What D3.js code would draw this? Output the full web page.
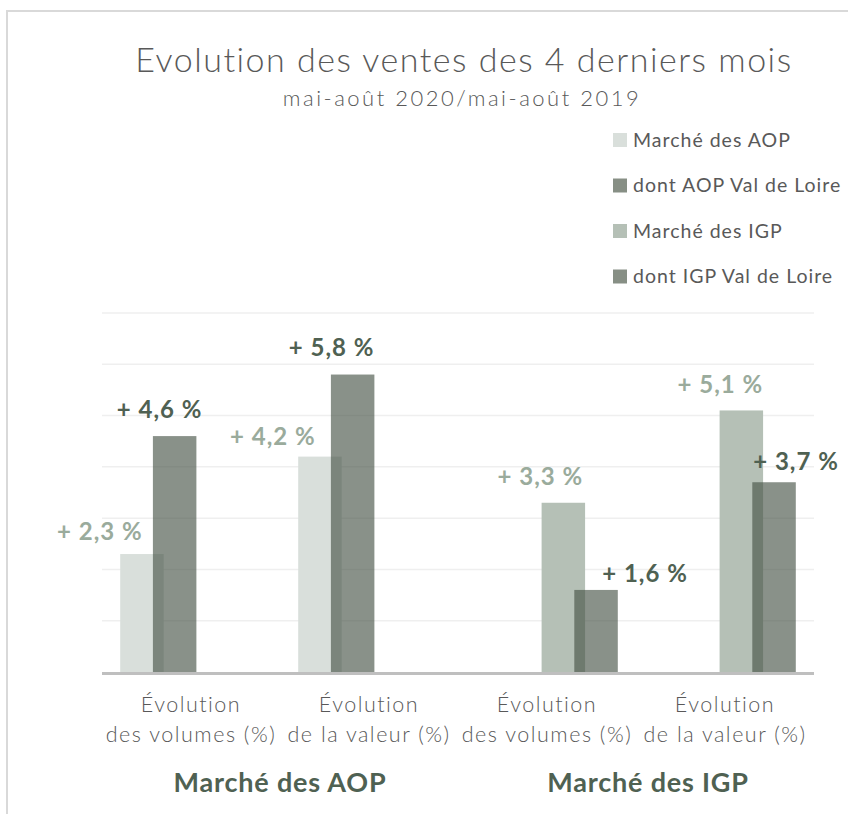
<!DOCTYPE html>
<html>
<head>
<meta charset="utf-8">
<script src="https://cdn.jsdelivr.net/npm/d3@7"></script>
<style>
  body { margin: 0; background: #fff; }
  svg { display: block; font-family: Lato, 'Open Sans', sans-serif; }
</style>
</head>
<body>
<div id="chart"></div>
<script>
const WIDTH = 848
const HEIGHT = 814

// data
const categories = ['aopVol', 'aopVal', 'igpVol', 'igpVal']
const categoryLines = [
  ['Évolution', 'des volumes (%)'],
  ['Évolution', 'de la valeur (%)'],
  ['Évolution', 'des volumes (%)'],
  ['Évolution', 'de la valeur (%)'],
]
const groups = ['Marché des AOP', 'Marché des IGP']
const seriesNames = ['Marché des AOP', 'dont AOP Val de Loire', 'Marché des IGP', 'dont IGP Val de Loire']
const aopMarket = [2.3, 4.2, null, null]
const aopLoire = [4.6, 5.8, null, null]
const igpMarket = [null, null, 3.3, 5.1]
const igpLoire = [null, null, 1.6, 3.7]
const yTicks = [0, 1, 2, 3, 4, 5, 6, 7]

// styles
const barFill = ['#d9dfdb', 'rgb(68,80,68)', '#b5c0b6', 'rgb(68,80,68)']
const barOpacity = [1, 0.63, 1, 0.63]
const legendFill = ['#d9dfdb', '#878f85', '#b5c0b6', '#878f85']
const labelColor = ['#9aab9c', '#4f6152', '#9aab9c', '#4f6152']
// hand placed label offsets (dx from bar centre, dy from bar top), as in the original
const labelNudge = [
  [[-42, -22], [-47, -20]],
  [[-15, -26], [-21, -27]],
  [[-23, -26], [-21, -26]],
  [[49, -16], [22, -21]],
]
const groupNudge = [0, 12]

const allSeries = [aopMarket, aopLoire, igpMarket, igpLoire]

const svg = d3.select('#chart')
  .append('svg')
  .attr('width', WIDTH)
  .attr('height', HEIGHT)

// frame
svg.append('path')
  .attr('d', `M7,${HEIGHT} V11 H${WIDTH}`)
  .attr('fill', 'none')
  .attr('stroke', '#d9d9d9')
  .attr('stroke-width', 2)

// title
svg.append('text')
  .attr('x', 464).attr('y', 72)
  .attr('text-anchor', 'middle')
  .attr('font-size', 34)
  .attr('font-weight', 300)
  .attr('letter-spacing', 1.5)
  .attr('fill', '#595959')
  .text('Evolution des ventes des 4 derniers mois')

svg.append('text')
  .attr('x', 462).attr('y', 106)
  .attr('text-anchor', 'middle')
  .attr('font-size', 22)
  .attr('font-weight', 300)
  .attr('fill', '#595959')
  .attr('letter-spacing', 2.5)
  .text('mai-août 2020/mai-août 2019')

// scales
const x0 = d3.scaleBand().domain(categories).range([102, 814])
const x1 = d3.scaleBand().domain(seriesNames).range([18.2, 18.2 + 4 * 32.7])
const barWidth = x1.bandwidth() * 1.33
const y = d3.scaleLinear().domain([0, 7]).range([672, 313])

// gridlines
svg.append('g')
  .selectAll('line')
  .data(yTicks.slice(1))
  .enter()
  .append('line')
  .attr('x1', x0.range()[0])
  .attr('x2', x0.range()[1])
  .attr('y1', (d) => y(d))
  .attr('y2', (d) => y(d))
  .attr('stroke', '#efefef')
  .attr('stroke-width', 1.5)

// bars
allSeries.forEach((values, s) => {
  const bars = values
    .map((v, i) => ({ v, i }))
    .filter((d) => d.v !== null)

  svg.append('g')
    .selectAll('rect')
    .data(bars)
    .enter()
    .append('rect')
    .attr('x', (d) => x0(categories[d.i]) + x1(seriesNames[s]))
    .attr('y', (d) => y(d.v))
    .attr('width', barWidth)
    .attr('height', (d) => y(0) - y(d.v))
    .attr('fill', barFill[s])
    .attr('fill-opacity', barOpacity[s])
})

// labels on top so the bars never cover them
allSeries.forEach((values, s) => {
  const bars = values
    .map((v, i) => ({ v, i }))
    .filter((d) => d.v !== null)

  svg.append('g')
    .selectAll('text')
    .data(bars)
    .enter()
    .append('text')
    .attr('x', (d, k) => x0(categories[d.i]) + x1(seriesNames[s]) + barWidth / 2 + labelNudge[s][k][0])
    .attr('y', (d, k) => y(d.v) + labelNudge[s][k][1])
    .attr('dy', '.35em')
    .attr('text-anchor', 'middle')
    .attr('font-size', 24)
    .attr('font-weight', 700)
    .attr('letter-spacing', 1)
    .attr('fill', labelColor[s])
    .text((d) => '+ ' + d3.format('.1f')(d.v).replace('.', ',') + ' %')
})

// baseline
svg.append('line')
  .attr('x1', x0.range()[0])
  .attr('x2', x0.range()[1])
  .attr('y1', y(0) + 1.5)
  .attr('y2', y(0) + 1.5)
  .attr('stroke', '#bfbfbf')
  .attr('stroke-width', 3)

// category labels
const catText = svg.append('g')
  .selectAll('text')
  .data(categories)
  .enter()
  .append('text')
  .attr('text-anchor', 'middle')
  .attr('font-size', 21.5)
  .attr('font-weight', 300)
  .attr('letter-spacing', 1.5)
  .attr('fill', '#595959')

catText.selectAll('tspan')
  .data((d, i) => categoryLines[i])
  .enter()
  .append('tspan')
  .attr('x', function () { return x0(this.parentNode.__data__) + x0.bandwidth() / 2 })
  .attr('y', (d, j) => 712 + j * 30)
  .text((d) => d)

// group labels
svg.append('g')
  .selectAll('text')
  .data(groups)
  .enter()
  .append('text')
  .attr('x', (d, i) => (x0(categories[i * 2]) + x0(categories[i * 2 + 1]) + x0.bandwidth()) / 2 + groupNudge[i])
  .attr('y', 792)
  .attr('text-anchor', 'middle')
  .attr('font-size', 27)
  .attr('font-weight', 700)
  .attr('letter-spacing', 0.8)
  .attr('fill', '#4f6152')
  .text((d) => d)

// legend
const legend = svg.append('g')
  .selectAll('g')
  .data(seriesNames)
  .enter()
  .append('g')
  .attr('transform', (d, i) => `translate(613, ${140 + i * 45.5})`)

legend.append('rect')
  .attr('x', 0).attr('y', -7)
  .attr('width', 14).attr('height', 14)
  .attr('fill', (d, i) => legendFill[i])

legend.append('text')
  .attr('x', 20)
  .attr('dy', '.35em')
  .attr('font-size', 19.5)
  .attr('letter-spacing', 1)
  .attr('fill', '#595959')
  .text((d) => d)
</script>
</body>
</html>
